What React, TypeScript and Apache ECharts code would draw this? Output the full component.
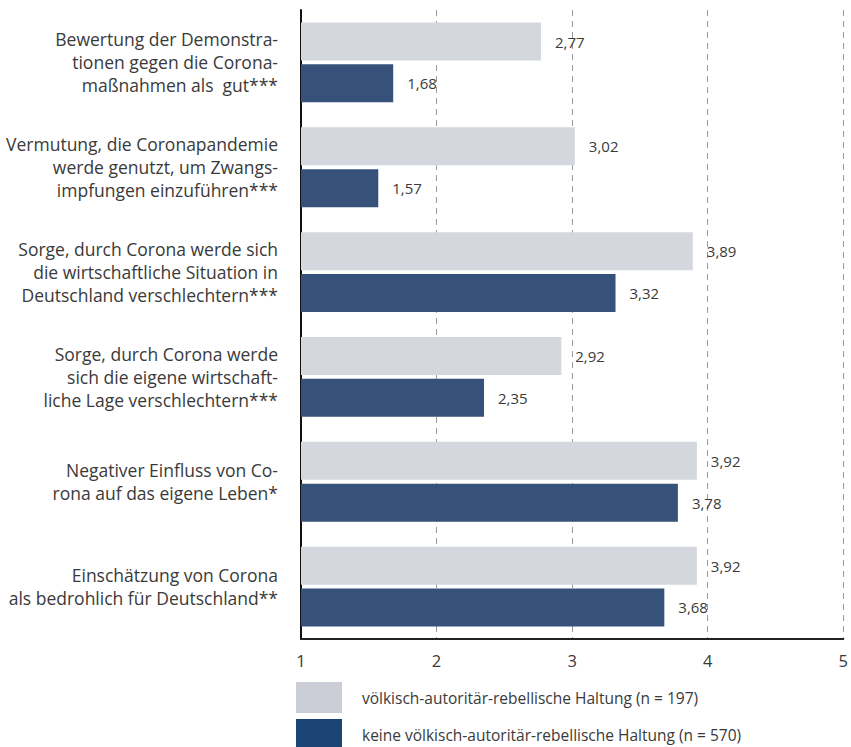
import React, { useEffect, useRef } from "react";
import * as echarts from "echarts";

const categories = [
  "Bewertung der Demonstra-\ntionen gegen die Corona-\nmaßnahmen als  gut***",
  "Vermutung, die Coronapandemie\nwerde genutzt, um Zwangs-\nimpfungen einzuführen***",
  "Sorge, durch Corona werde sich\ndie wirtschaftliche Situation in\nDeutschland verschlechtern***",
  "Sorge, durch Corona werde\nsich die eigene wirtschaft-\nliche Lage verschlechtern***",
  "Negativer Einfluss von Co-\nrona auf das eigene Leben*",
  "Einschätzung von Corona\nals bedrohlich für Deutschland**",
];
const seriesNames = [
  "völkisch-autoritär-rebellische Haltung (n = 197)",
  "keine völkisch-autoritär-rebellische Haltung (n = 570)",
];
const valuesVar = [2.77, 3.02, 3.89, 2.92, 3.92, 3.92];
const valuesNone = [1.68, 1.57, 3.32, 2.35, 3.78, 3.68];
const xTicks = [1, 2, 3, 4, 5];

const FONT = "'Open Sans', 'Noto Sans', sans-serif";
const TEXT = "#3a3a3a";

export default function App() {
  const ref = useRef<HTMLDivElement>(null);
  useEffect(() => {
    document.body.style.margin = "0";
    const chart = echarts.init(ref.current!, null, { renderer: "svg" });
    const label = {
      show: true,
      position: "right",
      distance: 14,
      color: TEXT,
      fontSize: 15,
      fontFamily: FONT,
      formatter: (p: any) => p.value.toFixed(2).replace(".", ","),
    };
    const legendBase = {
      orient: "vertical",
      left: 296,
      itemWidth: 46,
      itemHeight: 31,
      icon: "rect",
      padding: 0,
      textStyle: { color: TEXT, fontSize: 15.5, fontFamily: FONT, padding: [0, 0, 0, 15] },
    };
    chart.setOption({
      animation: false,
      textStyle: { fontFamily: FONT },
      grid: { left: 301, right: 5, top: 10, bottom: 108, containLabel: false },
      xAxis: {
        type: "value",
        min: xTicks[0],
        max: xTicks[xTicks.length - 1],
        interval: 1,
        axisLine: { show: true, lineStyle: { color: "#222", width: 2 } },
        axisTick: { show: false },
        axisLabel: { color: TEXT, fontSize: 16.5, margin: 13, fontFamily: FONT },
        splitLine: { show: true, lineStyle: { color: "#9a9a9a", type: [6, 5], width: 1 } },
      },
      yAxis: {
        type: "category",
        data: categories,
        inverse: true,
        axisLine: { show: true, lineStyle: { color: "#111", width: 2 } },
        axisTick: { show: false },
        axisLabel: {
          color: TEXT,
          fontSize: 17.5,
          lineHeight: 23,
          margin: 23,
          align: "right",
          fontFamily: FONT,
        },
        splitLine: { show: false },
      },
      legend: [
        {
          ...legendBase,
          top: 682,
          data: [{ name: seriesNames[0], itemStyle: { color: "#cbced6" } }],
        },
        {
          ...legendBase,
          top: 719,
          data: [{ name: seriesNames[1], itemStyle: { color: "#1b4574" } }],
        },
      ],
      series: [
        {
          name: seriesNames[0],
          type: "bar",
          data: valuesVar,
          barWidth: 38,
          barGap: "10%",
          itemStyle: { color: "#d4d7de" },
          label,
        },
        {
          name: seriesNames[1],
          type: "bar",
          data: valuesNone,
          barWidth: 38,
          itemStyle: { color: "#36527a" },
          label,
        },
      ],
    });
    return () => chart.dispose();
  }, []);
  return <div ref={ref} style={{ width: 851, height: 747 }} />;
}
